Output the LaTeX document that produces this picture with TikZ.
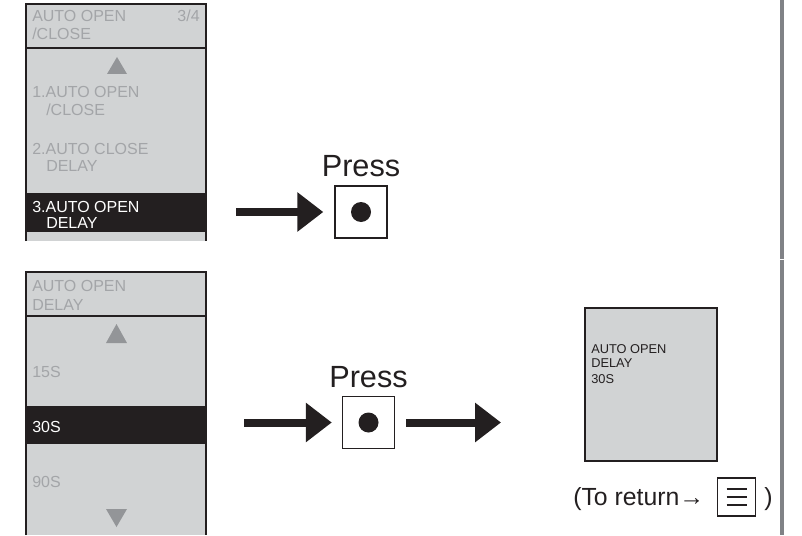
\documentclass[tikz,border=0pt]{standalone}
\usepackage{fontspec}
\setmainfont{Liberation Sans}
\usepackage{tikz}
\usetikzlibrary{arrows.meta,positioning,calc}
\definecolor{scrgray}{RGB}{209,211,212}
\definecolor{scrtext}{RGB}{163,165,168}
\definecolor{scrdark}{RGB}{35,31,32}
\definecolor{trigray}{RGB}{147,149,152}
\definecolor{railgray}{RGB}{128,130,134}

\begin{document}
\begin{tikzpicture}[x=0.75pt,y=0.75pt,
    frame/.style={draw=scrdark, line width=1.5pt},
    item/.style={anchor=base west, inner sep=0pt, text=scrtext,
                 font=\fontsize{12}{14}\selectfont},
    pick/.style={item, text=white},
    pressbtn/.style={draw=scrdark, line width=1.1pt, minimum size=39pt, inner sep=0pt},
    presslbl/.style={inner sep=0pt, text=scrdark, font=\fontsize{23}{26}\selectfont},
    bigarrow/.style={draw=scrdark, line width=6pt,
                     -{Triangle[length=19.5pt,width=28.5pt]}},
    small/.style={anchor=base west, inner sep=0pt, text=scrdark,
                  font=\fontsize{9.6}{11}\selectfont}]
  \useasboundingbox (0,0) rectangle (802,-535);

  % upper screen: menu page 3/4
  \fill[scrgray] (26,-4) rectangle (206,-241);
  \fill[scrdark] (26,-193) rectangle (206,-232);
  \draw[frame] (26,-241) -- (26,-4) -- (206,-4) -- (206,-241);
  \draw[frame] (26,-48) -- (206,-48);
  \fill[trigray] (107,-74) -- (127,-74) -- (117,-57) -- cycle;
  \foreach \n/\xx/\yy/\txt in {hda/32/22/AUTO OPEN, hdb/32/40/{/CLOSE},
        ia/32/98/1.AUTO OPEN, ib/46/115/{/CLOSE},
        ic/32/154/2.AUTO CLOSE, id/46/171/DELAY} {
    \node[item] (\n) at (\xx,-\yy) {\txt};
  }
  \node[item, anchor=base east] (page) at (200,-22) {3/4};
  \node[pick] (sela) at (32,-212) {3.AUTO OPEN};
  \node[pick] (selb) at (46,-228) {DELAY};

  % lower screen: delay values
  \fill[scrgray] (26,-272) rectangle (206,-535);
  \fill[scrdark] (26,-406) rectangle (206,-444);
  \draw[frame] (26,-535) -- (26,-272) -- (206,-272) -- (206,-535);
  \draw[frame] (26,-316) -- (206,-316);
  \fill[trigray] (106,-343) -- (127,-343) -- (116.5,-324) -- cycle;
  \fill[trigray] (106,-509) -- (127,-509) -- (116.5,-527) -- cycle;
  \foreach \n/\yy/\txt in {hdc/291/AUTO OPEN, hdd/310/DELAY,
        va/377/15S, vc/487/90S} {
    \node[item] (\n) at (32,-\yy) {\txt};
  }
  \node[pick] (vb) at (32,-432) {30S};

  % press buttons
  \node[pressbtn] (btn1) at (361,-212) {};
  \fill[scrdark] (btn1.center) circle (7.5pt);
  \node[presslbl, above=6pt of btn1] (press1) {Press};
  \coordinate (a1) at (236,-212);
  \draw[bigarrow, shorten >=8.25pt] (a1) -- (btn1.west);

  \node[pressbtn] (btn2) at (368.5,-422.5) {};
  \fill[scrdark] (btn2.center) circle (7.5pt);
  \node[presslbl, above=6pt of btn2] (press2) {Press};
  \coordinate (a2) at (244,-422.5);
  \coordinate (a3) at (501,-422.5);
  \draw[bigarrow, shorten >=7.5pt] (a2) -- (btn2.west);
  \draw[bigarrow, shorten <=8.25pt] (btn2.east) -- (a3);

  % result display
  \node[frame, fill=scrgray, minimum width=99pt, minimum height=114.75pt,
        inner sep=0pt] (res) at (651,-384.5) {};
  \node[small] (ra) at (591,-353) {AUTO OPEN};
  \node[small] (rb) at (591,-367) {DELAY};
  \node[small] (rc) at (591,-383) {30S};

  % return hint
  \node[anchor=base west, inner sep=0pt, text=scrdark,
        font=\fontsize{18.6}{20}\selectfont] (ret) at (573,-505) {(To return→};
  \node[draw=scrdark, line width=1.1pt, minimum size=28.5pt, inner sep=0pt]
        (menubtn) at (736.5,-497) {};
  \foreach \dy in {8,0,-8}
    \draw[scrdark, line width=1.6pt] ($(menubtn.center)+(-10,\dy)$) -- ++(20,0);
  \node[anchor=base west, inner sep=0pt, text=scrdark,
        font=\fontsize{18.6}{20}\selectfont] (retend) at (764,-505) {)};

  % page edge
  \draw[railgray, line width=3pt] (781.5,0) -- (781.5,-258.5);
  \draw[railgray, line width=3pt] (781.5,-259.5) -- (781.5,-535);
\end{tikzpicture}
\end{document}
